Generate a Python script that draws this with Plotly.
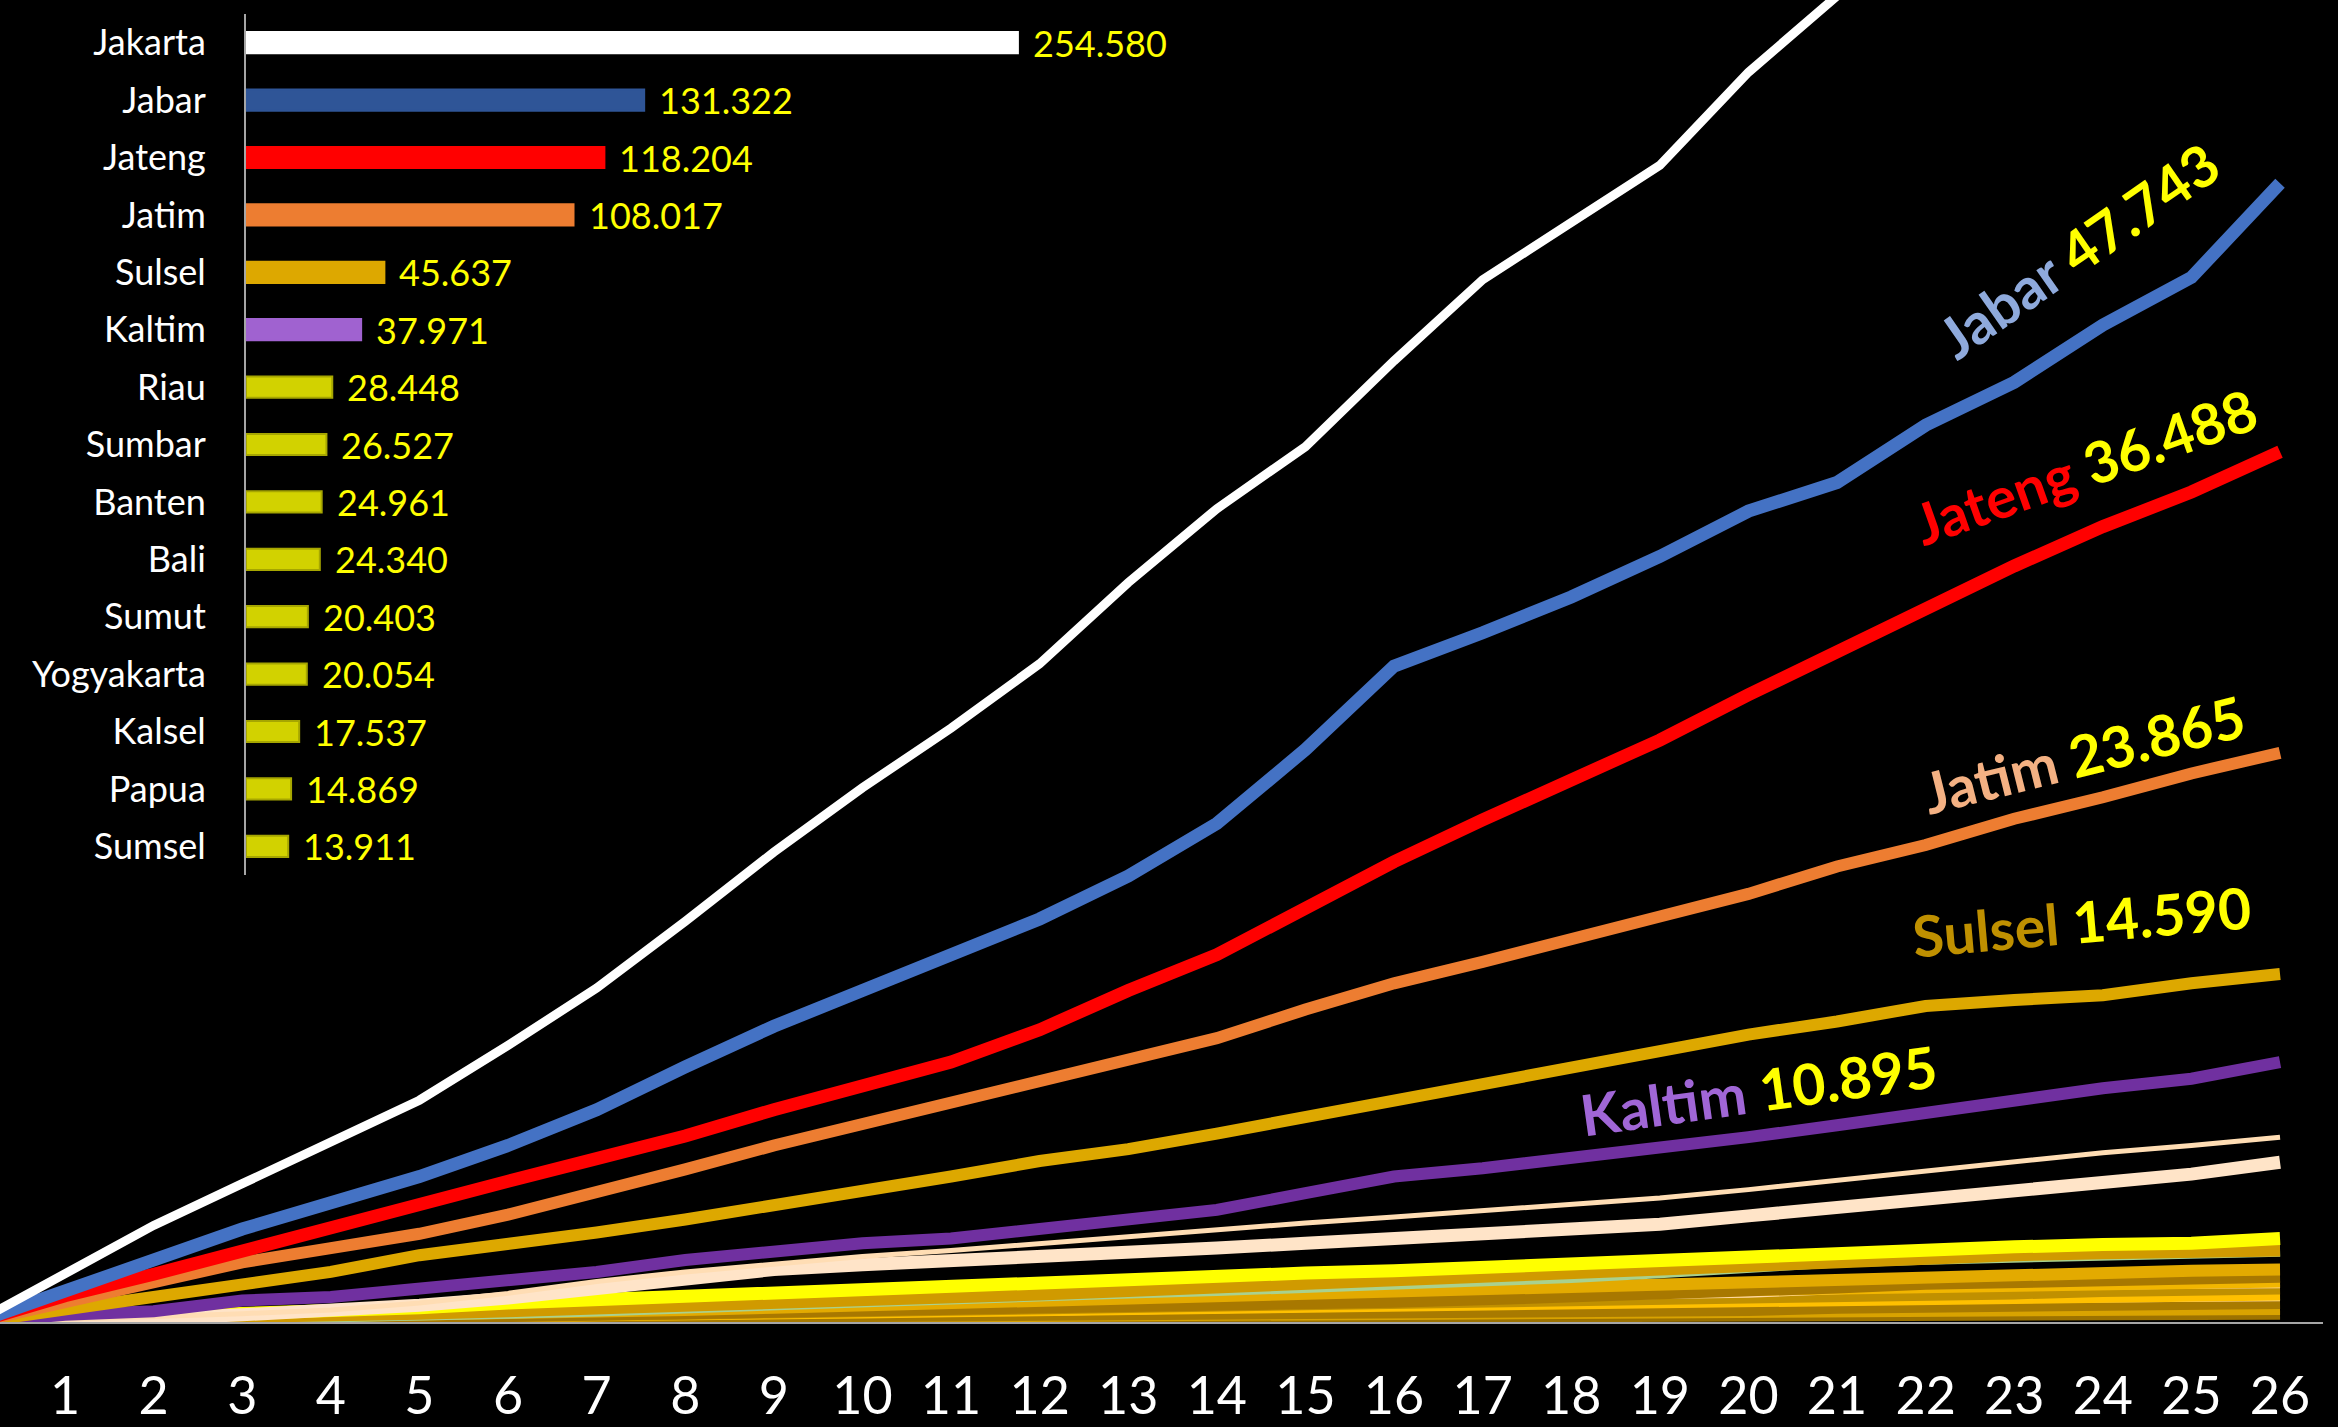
import plotly.graph_objects as go

# ---------------- data ----------------
days = list(range(0, 27))
tick_days = list(range(1, 27))

# cumulative increase since day 0 (thousands)
jakarta = [0, 2.0, 4.05, 5.8, 7.5, 9.3, 11.6, 14.0, 16.8, 19.7, 22.4, 24.9, 27.6, 31.0, 34.1, 36.7,
           40.3, 43.7, 46.1, 48.5, 52.4, 55.6, 58.8, None, None, None, None]
jabar = [0, 1.3, 2.6, 3.9, 5.0, 6.1, 7.4, 8.9, 10.7, 12.4, 13.9, 15.4, 16.9, 18.7, 20.9, 24.0,
         27.5, 28.9, 30.4, 32.1, 34.0, 35.2, 37.6, 39.4, 41.8, 43.8, 47.743]
jateng = [0, 1.1, 2.0, 3.0, 4.0, 4.95, 5.9, 6.85, 7.8, 8.9, 9.9, 10.9, 12.25, 13.9, 15.4, 17.4,
          19.3, 21.05, 22.7, 24.4, 26.3, 28.15, 29.85, 31.7, 33.35, 34.8, 36.488]
jatim = [0, 0.8, 1.6, 2.5, 3.1, 3.7, 4.5, 5.4, 6.4, 7.4, 8.3, 9.2, 10.1, 10.9, 11.9, 13.1,
         14.2, 15.1, 16.0, 17.0, 17.95, 19.1, 20.0, 21.1, 22.0, 23.0, 23.865]
sulsel = [0, 0.5, 1.0, 1.5, 2.1, 2.8, 3.25, 3.75, 4.3, 4.9, 5.4, 6.1, 6.75, 7.25, 7.9, 8.6,
          9.3, 10.0, 10.7, 11.4, 12.05, 12.6, 13.25, 13.5, 13.7, 14.2, 14.590]
kaltim = [0, 0.3, 0.45, 0.9, 1.05, 1.4, 1.7, 2.1, 2.6, 3.0, 3.3, 3.5, 3.9, 4.4, 4.7, 5.4,
          6.1, 6.45, 6.85, 7.3, 7.75, 8.25, 8.8, 9.3, 9.8, 10.2, 10.895]
peach_thin = [0, 0.1, 0.2, 0.35, 0.5, 0.8, 1.2, 1.7, 2.1, 2.45, 2.75, 3.0, 3.3, 3.6, 3.9, 4.15,
              4.4, 4.65, 4.9, 5.2, 5.55, 5.95, 6.35, 6.75, 7.1, 7.4, 7.75]
peach_thick = [0, 0.05, 0.15, 0.3, 0.45, 0.7, 1.0, 1.4, 1.75, 2.2, 2.4, 2.55, 2.75, 2.9, 3.1, 3.3,
               3.5, 3.7, 3.9, 4.1, 4.45, 4.8, 5.1, 5.45, 5.8, 6.2, 6.7]
yellow = [0, 0.1, 0.2, 0.3, 0.4, 0.6, 0.8, 0.95, 1.1, 1.25, 1.4, 1.55, 1.7, 1.8, 1.95, 2.05,
          2.15, 2.3, 2.45, 2.6, 2.8, 2.95, 3.05, 3.15, 3.25, 3.3, 3.5]
green = [0, 0.05, 0.1, 0.15, 0.25, 0.35, 0.45, 0.55, 0.7, 0.8, 0.95, 1.05, 1.15, 1.3, 1.4, 1.5,
         1.65, 1.8, 1.95, 2.15, 2.4, 2.6, 2.72, 2.82, 2.9, 2.98, 3.05]
gold1 = [0, 0.05, 0.1, 0.15, 0.25, 0.35, 0.45, 0.55, 0.7, 0.85, 0.95, 1.05, 1.15, 1.3, 1.45, 1.6,
         1.75, 1.9, 2.05, 2.2, 2.4, 2.6, 2.7, 2.8, 2.88, 2.95, 3.0]
gold2 = [0, 0.05, 0.1, 0.15, 0.2, 0.3, 0.35, 0.45, 0.5, 0.6, 0.7, 0.8, 0.9, 1.0, 1.1, 1.2,
         1.3, 1.4, 1.5, 1.6, 1.75, 1.85, 1.95, 2.0, 2.1, 2.15, 2.2]
gold3 = [0, 0.02, 0.05, 0.1, 0.15, 0.2, 0.25, 0.3, 0.35, 0.4, 0.45, 0.5, 0.55, 0.65, 0.7, 0.8,
         0.85, 0.95, 1.05, 1.15, 1.3, 1.45, 1.6, 1.65, 1.75, 1.8, 1.9]
gold4 = [0, 0.05, 0.1, 0.15, 0.2, 0.25, 0.35, 0.4, 0.5, 0.55, 0.65, 0.7, 0.8, 0.85, 0.95, 1.0,
         1.1, 1.15, 1.25, 1.3, 1.4, 1.45, 1.5, 1.55, 1.6, 1.65, 1.7]
gold5 = [0, 0.03, 0.06, 0.1, 0.15, 0.2, 0.25, 0.3, 0.35, 0.4, 0.45, 0.5, 0.55, 0.6, 0.65, 0.7,
         0.75, 0.8, 0.85, 0.95, 1.0, 1.1, 1.15, 1.2, 1.3, 1.35, 1.4]
gold6 = [0, 0.03, 0.05, 0.08, 0.12, 0.15, 0.2, 0.25, 0.3, 0.35, 0.4, 0.45, 0.5, 0.55, 0.6, 0.65,
         0.7, 0.72, 0.75, 0.8, 0.85, 0.9, 0.95, 1.0, 1.05, 1.1, 1.15]
gold7 = [0, 0.02, 0.04, 0.06, 0.08, 0.1, 0.12, 0.15, 0.18, 0.2, 0.22, 0.25, 0.28, 0.3, 0.33, 0.35,
         0.38, 0.4, 0.42, 0.45, 0.5, 0.6, 0.65, 0.7, 0.72, 0.76, 0.8]
gold8 = [0, 0.02, 0.03, 0.05, 0.07, 0.09, 0.1, 0.12, 0.14, 0.16, 0.18, 0.2, 0.22, 0.24, 0.26, 0.28,
         0.3, 0.32, 0.34, 0.36, 0.38, 0.41, 0.44, 0.47, 0.5, 0.52, 0.55]
gold9 = [0, 0.01, 0.02, 0.03, 0.04, 0.05, 0.06, 0.07, 0.08, 0.09, 0.1, 0.11, 0.12, 0.13, 0.14, 0.15,
         0.16, 0.17, 0.18, 0.19, 0.2, 0.22, 0.25, 0.28, 0.3, 0.33, 0.35]
streak1 = [0, 0.02, 0.05, 0.08, 0.1, 0.15, 0.2, 0.25, 0.3, 0.35, 0.4, 0.45, 0.5, 0.55, 0.6, 0.7,
           0.8, 0.9, 1.0, 1.05, 1.1, 1.25, 1.35, 1.4, 1.45, 1.48, 1.5]
streak2 = [0, 0.01, 0.03, 0.05, 0.07, 0.1, 0.13, 0.16, 0.2, 0.23, 0.26, 0.3, 0.35, 0.4, 0.45, 0.5,
           0.6, 0.65, 0.7, 0.72, 0.75, 0.8, 0.85, 0.88, 0.9, 0.93, 0.95]

# inset bar chart: total cases per province
bar_provinces = ["Jakarta", "Jabar", "Jateng", "Jatim", "Sulsel", "Kaltim", "Riau", "Sumbar",
                 "Banten", "Bali", "Sumut", "Yogyakarta", "Kalsel", "Papua", "Sumsel"]
bar_values = [254580, 131322, 118204, 108017, 45637, 37971, 28448, 26527,
              24961, 24340, 20403, 20054, 17537, 14869, 13911]

# ---------------- styles ----------------
OLIVE = "#D2D200"
bar_colors = ["#FFFFFF", "#2F5597", "#FF0000", "#ED7D31", "#DDA800", "#A062D0"] + [OLIVE] * 9
bar_line_colors = ["#FFFFFF", "#2F5597", "#FF0000", "#ED7D31", "#DDA800", "#A062D0"] + ["#A6A600"] * 9

FONT = "Lato"
W, H = 2338, 1427
ML, MR, MT, MB = 0, 15, 0, 105
PW = W - ML - MR
PH = H - MT - MB


def paper_x(px):
    return (px - ML) / PW


def paper_y(py):
    return 1 - (py - MT) / PH


fig = go.Figure()

# (values, color, width) bottom -> top
line_specs = [
    (gold9, "#9C7200", 12), (gold8, "#D9A300", 12), (gold7, "#A87A00", 12),
    (streak2, "#FFD9A0", 4), (gold6, "#FFC000", 12), (gold5, "#C09000", 12),
    (streak1, "#FFD9A0", 4), (gold4, "#F2B600", 12), (gold3, "#A87800", 12),
    (gold2, "#E3AA00", 12), (green, "#A9D18E", 15), (gold1, "#D09A00", 12),
    (yellow, "#FFFF00", 13), (peach_thick, "#FFE4C8", 13), (peach_thin, "#FFDDB4", 5),
    (kaltim, "#7030A0", 12), (sulsel, "#DDA800", 12), (jatim, "#ED7D31", 12),
    (jateng, "#FF0000", 13), (jabar, "#4472C4", 13), (jakarta, "#FFFFFF", 9),
]
for vals, color, width in line_specs:
    fig.add_trace(go.Scatter(x=days, y=vals, mode="lines",
                             line=dict(color=color, width=width),
                             showlegend=False, hoverinfo="skip",
                             xaxis="x", yaxis="y"))

fig.add_trace(go.Bar(x=bar_values, y=bar_provinces, orientation="h",
                     marker=dict(color=bar_colors, line=dict(color=bar_line_colors, width=2)),
                     xaxis="x2", yaxis="y2", showlegend=False, hoverinfo="skip"))


def fmt(v):
    return f"{v:,}".replace(",", ".")


annotations = []
for prov, v in zip(bar_provinces, bar_values):
    annotations.append(dict(x=v, y=prov, xref="x2", yref="y2", text=fmt(v),
                            showarrow=False, xanchor="left", yanchor="middle", xshift=13,
                            font=dict(family=FONT, size=36, color="#FFFF00")))

# rotated labels at the line ends: (name, final value, name colour, centre px, angle)
end_labels = [
    ("Jabar", jabar[-1], "#8FAADC", (2078, 250), 35),
    ("Jateng", jateng[-1], "#FF0000", (2085, 466), 19.5),
    ("Jatim", jatim[-1], "#F4B183", (2083, 754), 14),
    ("Sulsel", sulsel[-1], "#BF9000", (2081, 921), 5),
    ("Kaltim", kaltim[-1], "#A066D6", (1758, 1090), 8),
]
for name, val, col, (cx, cy), ang in end_labels:
    txt = (f"<span style='color:{col}'>{name}</span> "
           f"<span style='color:#FFFF00'>{val:.3f}</span>")
    annotations.append(dict(x=paper_x(cx), y=paper_y(cy), xref="paper", yref="paper",
                            text=f"<b>{txt}</b>", showarrow=False, textangle=-ang,
                            xanchor="center", yanchor="middle",
                            font=dict(family=FONT, size=57, color="#FFFF00")))

bar_left, bar_right = 246, 1250
bar_top, bar_bottom = 14, 875
px_per_case = 3.032 / 1000

fig.update_layout(
    width=W, height=H,
    margin=dict(l=ML, r=MR, t=MT, b=MB, pad=0),
    paper_bgcolor="#000000", plot_bgcolor="rgba(0,0,0,0)",
    font=dict(family=FONT, color="#FFFFFF"),
    showlegend=False,
    bargap=0.63,
    xaxis=dict(range=[0.266, 26.485], tickmode="array", tickvals=tick_days,
               ticktext=[str(d) for d in tick_days], showgrid=False, zeroline=False,
               showline=True, linecolor="#A6A6A6", linewidth=2, ticks="",
               ticklabelstandoff=28, automargin=False,
               tickfont=dict(family=FONT, size=52, color="#FFFFFF")),
    yaxis=dict(range=[0, 55.43], visible=False, showgrid=False, zeroline=False),
    xaxis2=dict(domain=[paper_x(bar_left), paper_x(bar_right)],
                range=[0, (bar_right - bar_left) / px_per_case], anchor="y2",
                visible=False, showgrid=False, zeroline=False),
    yaxis2=dict(domain=[paper_y(bar_bottom), paper_y(bar_top)], anchor="x2",
                type="category", categoryorder="array", categoryarray=bar_provinces,
                autorange="reversed", showline=True, linecolor="#A6A6A6", linewidth=2,
                showgrid=False, zeroline=False, ticks="", ticklabelstandoff=31,
                automargin=False,
                tickfont=dict(family=FONT, size=36, color="#FFFFFF")),
    annotations=annotations,
)

fig.write_html("out.html", config={"displayModeBar": False},
               post_script="document.body.style.margin='0px';")
